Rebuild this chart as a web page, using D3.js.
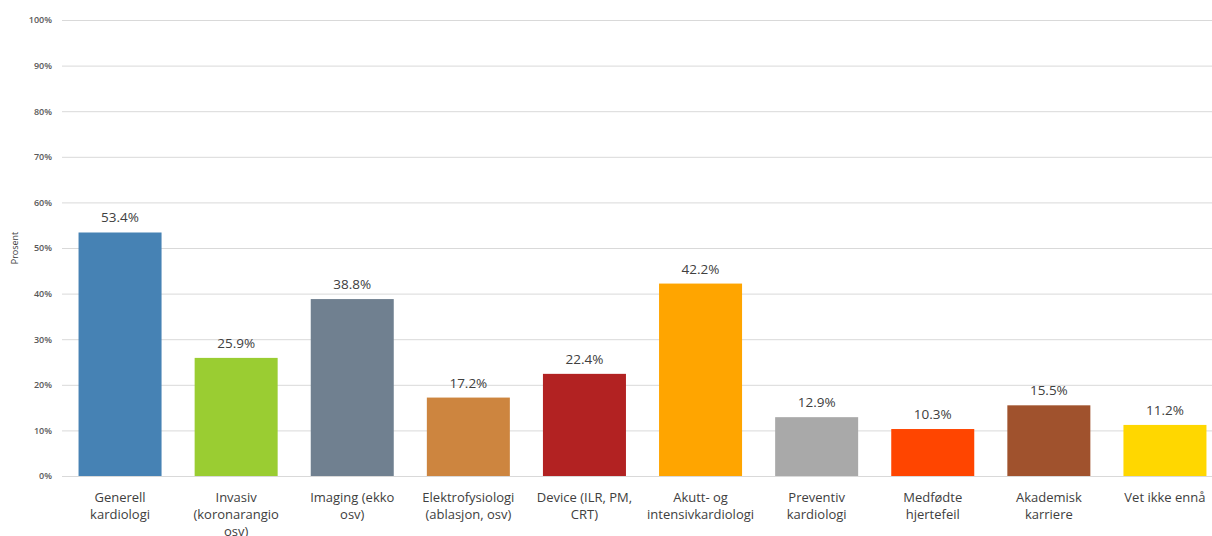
<!DOCTYPE html>
<html><head><meta charset="utf-8">
<script src="https://cdn.jsdelivr.net/npm/d3@7"></script>
<style>html,body{margin:0;padding:0;background:#fff;}svg{display:block;}</style>
</head><body>
<svg id="c" width="1212" height="536"></svg>
<script>
const categories = [
  "Generell|kardiologi",
  "Invasiv|(koronarangio|osv)",
  "Imaging (ekko|osv)",
  "Elektrofysiologi|(ablasjon, osv)",
  "Device (ILR, PM,|CRT)",
  "Akutt- og|intensivkardiologi",
  "Preventiv|kardiologi",
  "Medfødte|hjertefeil",
  "Akademisk|karriere",
  "Vet ikke ennå"
];
const values = [53.4, 25.9, 38.8, 17.2, 22.4, 42.2, 12.9, 10.3, 15.5, 11.2];
const colors = ["#4682B4","#9ACD32","#708090","#CD853F","#B22222","#FFA500","#A9A9A9","#FF4500","#A0522D","#FFD700"];
const yTicks = [0,10,20,30,40,50,60,70,80,90,100];
const yTitle = "Prosent";

(function(){
const svg = d3.select("#c");
const mLeft = 62, mRight = 1212, mTop = 20, mBottom = 476;
const x = d3.scaleBand().domain(categories).range([mLeft, 1223]).paddingInner(0.285).paddingOuter(0.1425);
const y = d3.scaleLinear().domain([0,100]).range([mBottom, mTop]);
const font = "'Open Sans', Roboto, sans-serif";

const yAxis = d3.axisLeft(y).tickValues(yTicks).tickFormat(d => d + "%").tickSize(-(mRight-mLeft)).tickPadding(10);
const gy = svg.append("g").attr("transform", `translate(${mLeft},0)`).call(yAxis);
gy.select(".domain").remove();
gy.selectAll(".tick line").attr("stroke", "#d9d9d9").attr("stroke-width", 1);
gy.selectAll(".tick text").attr("fill", "#595959").style("font-family", font).style("font-size", "9px").style("font-weight", "600");

svg.append("text").attr("transform", `translate(18,248) rotate(-90)`).attr("text-anchor","middle")
  .style("font-family", font).style("font-size","9px").attr("fill","#404040").text(yTitle);

svg.selectAll("rect.bar").data(values).join("rect").attr("class","bar")
  .attr("x", (d,i) => x(categories[i])).attr("width", x.bandwidth())
  .attr("y", d => y(d)).attr("height", d => mBottom - y(d))
  .attr("fill", (d,i) => colors[i]);

svg.selectAll("text.val").data(values).join("text").attr("class","val")
  .attr("x", (d,i) => x(categories[i]) + x.bandwidth()/2).attr("y", d => y(d) - 10)
  .attr("text-anchor","middle").style("font-family", font).style("font-size","13.5px").attr("fill","#404040")
  .text(d => d.toFixed(1) + "%");

const xAxis = d3.axisBottom(x).tickSize(0).tickPadding(0).tickFormat("");
const gx = svg.append("g").attr("transform", `translate(0,${mBottom})`).call(xAxis);
gx.select(".domain").remove();
gx.selectAll(".tick").each(function(d){
  const t = d3.select(this).append("text").attr("text-anchor","middle").attr("fill","#404040")
    .style("font-family", font).style("font-size","13px");
  d.split("|").forEach((line, j) => t.append("tspan").attr("x", 0).attr("y", 26 + j*17).text(line));
});
})();
</script>
</body></html>
